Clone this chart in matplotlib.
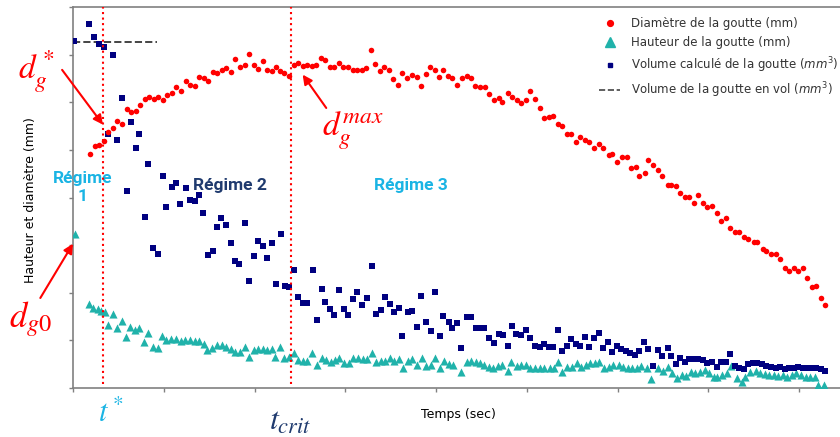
import matplotlib
matplotlib.use('Agg')
import matplotlib.pyplot as plt
from matplotlib.lines import Line2D

# Diamètre de la goutte (mm)
t_diam = [0.19, 0.24, 0.29, 0.34, 0.39, 0.44, 0.49, 0.54, 0.59, 0.64,
          0.69, 0.74, 0.79, 0.84, 0.89, 0.94, 0.99, 1.04, 1.09, 1.14,
          1.19, 1.24, 1.29, 1.34, 1.39, 1.44, 1.49, 1.54, 1.59, 1.64,
          1.69, 1.74, 1.79, 1.84, 1.89, 1.94, 1.99, 2.04, 2.09, 2.14,
          2.19, 2.24, 2.28, 2.33, 2.38, 2.44, 2.48, 2.53, 2.58, 2.63,
          2.68, 2.73, 2.78, 2.83, 2.88, 2.93, 2.98, 3.03, 3.08, 3.13,
          3.18, 3.23, 3.28, 3.33, 3.38, 3.43, 3.48, 3.53, 3.58, 3.63,
          3.68, 3.73, 3.79, 3.83, 3.89, 3.93, 3.99, 4.03, 4.08, 4.13,
          4.18, 4.23, 4.29, 4.34, 4.39, 4.43, 4.48, 4.54, 4.58, 4.64,
          4.69, 4.73, 4.79, 4.84, 4.89, 4.94, 4.99, 5.04, 5.09, 5.14,
          5.19, 5.24, 5.29, 5.34, 5.39, 5.44, 5.49, 5.54, 5.59, 5.64,
          5.69, 5.74, 5.79, 5.84, 5.90, 5.94, 5.99, 6.05, 6.10, 6.15,
          6.20, 6.24, 6.30, 6.34, 6.39, 6.44, 6.49, 6.55, 6.59, 6.64,
          6.69, 6.74, 6.79, 6.84, 6.89, 6.94, 6.99, 7.04, 7.09, 7.14,
          7.19, 7.24, 7.29, 7.34, 7.39, 7.44, 7.50, 7.54, 7.60, 7.64,
          7.69, 7.74, 7.79, 7.84, 7.89, 7.94, 7.99, 8.04, 8.09, 8.14,
          8.19, 8.24, 8.29]
diam = [4.92, 5.08, 5.11, 5.19, 5.38, 5.46, 5.60, 5.55, 5.85, 5.79,
        5.82, 5.94, 6.07, 6.12, 6.07, 6.12, 6.04, 6.15, 6.20, 6.31,
        6.23, 6.45, 6.37, 6.34, 6.53, 6.51, 6.45, 6.64, 6.61, 6.67,
        6.72, 6.64, 6.91, 6.75, 6.78, 7.01, 6.78, 6.70, 6.86, 6.67,
        6.65, 6.75, 6.66, 6.61, 6.56, 6.79, 6.83, 6.77, 6.79, 6.77,
        6.79, 6.93, 6.89, 6.74, 6.74, 6.83, 6.74, 6.74, 6.67, 6.67,
        6.67, 6.72, 7.09, 6.80, 6.65, 6.75, 6.68, 6.49, 6.37, 6.61,
        6.51, 6.58, 6.53, 6.34, 6.59, 6.74, 6.67, 6.54, 6.67, 6.56,
        6.51, 6.37, 6.51, 6.55, 6.51, 6.34, 6.32, 6.32, 6.18, 6.04,
        6.09, 6.01, 6.20, 6.11, 6.05, 5.98, 6.04, 6.23, 6.07, 5.88,
        5.66, 5.69, 5.71, 5.54, 5.50, 5.33, 5.33, 5.17, 5.27, 5.20,
        5.17, 5.03, 5.12, 5.03, 4.89, 4.92, 4.75, 4.84, 4.85, 4.62,
        4.65, 4.46, 4.52, 4.79, 4.68, 4.57, 4.45, 4.27, 4.27, 4.24,
        4.09, 4.02, 4.02, 3.88, 4.05, 3.89, 3.80, 3.83, 3.67, 3.51,
        3.58, 3.36, 3.28, 3.28, 3.17, 3.13, 3.06, 3.06, 2.92, 2.87,
        2.82, 2.82, 2.71, 2.53, 2.45, 2.53, 2.45, 2.53, 2.31, 2.12,
        2.14, 1.90, 1.74]

# Hauteur de la goutte (mm)
t_haut = [0.02, 0.18, 0.22, 0.27, 0.31, 0.35, 0.39, 0.44, 0.48, 0.54,
          0.58, 0.63, 0.68, 0.73, 0.78, 0.83, 0.88, 0.94, 0.98, 1.03,
          1.08, 1.13, 1.19, 1.23, 1.29, 1.34, 1.39, 1.44, 1.48, 1.53,
          1.59, 1.64, 1.69, 1.74, 1.79, 1.84, 1.89, 1.94, 1.99, 2.04,
          2.09, 2.14, 2.19, 2.23, 2.28, 2.33, 2.38, 2.43, 2.48, 2.53,
          2.58, 2.63, 2.69, 2.74, 2.79, 2.84, 2.89, 2.93, 2.99, 3.04,
          3.09, 3.14, 3.19, 3.24, 3.29, 3.34, 3.39, 3.44, 3.49, 3.54,
          3.59, 3.64, 3.69, 3.74, 3.79, 3.84, 3.89, 3.94, 3.99, 4.04,
          4.09, 4.14, 4.19, 4.28, 4.34, 4.39, 4.44, 4.48, 4.53, 4.58,
          4.63, 4.68, 4.73, 4.79, 4.83, 4.89, 4.94, 4.99, 5.04, 5.09,
          5.15, 5.19, 5.25, 5.30, 5.34, 5.39, 5.44, 5.50, 5.55, 5.60,
          5.65, 5.70, 5.75, 5.80, 5.85, 5.90, 5.95, 6.01, 6.06, 6.11,
          6.16, 6.21, 6.26, 6.32, 6.37, 6.45, 6.50, 6.55, 6.60, 6.65,
          6.71, 6.75, 6.81, 6.85, 6.91, 6.96, 7.01, 7.06, 7.10, 7.15,
          7.21, 7.25, 7.31, 7.37, 7.40, 7.46, 7.52, 7.57, 7.62, 7.67,
          7.72, 7.77, 7.82, 7.87, 7.92, 7.97, 8.02, 8.07, 8.12, 8.18,
          8.21, 8.27]
haut = [3.24, 1.76, 1.67, 1.65, 1.62, 1.59, 1.32, 1.55, 1.27, 1.41,
        1.08, 1.28, 1.22, 1.25, 0.97, 1.15, 0.86, 0.83, 1.10, 1.00,
        1.03, 1.03, 0.99, 1.00, 1.00, 0.99, 0.99, 0.93, 0.80, 0.83,
        0.90, 0.90, 0.86, 0.82, 0.76, 0.76, 0.87, 0.66, 0.80, 0.81,
        0.82, 0.80, 0.82, 0.66, 0.87, 0.64, 0.66, 0.73, 0.59, 0.57,
        0.57, 0.73, 0.48, 0.64, 0.59, 0.55, 0.59, 0.64, 0.53, 0.53,
        0.62, 0.64, 0.60, 0.60, 0.73, 0.54, 0.57, 0.57, 0.62, 0.57,
        0.60, 0.41, 0.57, 0.60, 0.48, 0.64, 0.46, 0.48, 0.64, 0.41,
        0.57, 0.50, 0.48, 0.34, 0.55, 0.57, 0.55, 0.52, 0.48, 0.45,
        0.41, 0.47, 0.48, 0.36, 0.54, 0.47, 0.48, 0.48, 0.41, 0.41,
        0.41, 0.43, 0.41, 0.41, 0.54, 0.34, 0.45, 0.45, 0.52, 0.45,
        0.48, 0.52, 0.52, 0.55, 0.41, 0.45, 0.48, 0.48, 0.45, 0.41,
        0.41, 0.41, 0.46, 0.41, 0.19, 0.41, 0.36, 0.45, 0.31, 0.22,
        0.27, 0.25, 0.34, 0.31, 0.34, 0.38, 0.31, 0.24, 0.24, 0.27,
        0.31, 0.47, 0.20, 0.13, 0.24, 0.34, 0.36, 0.31, 0.29, 0.27,
        0.27, 0.25, 0.27, 0.24, 0.27, 0.31, 0.27, 0.24, 0.24, 0.24,
        0.06, 0.06]

# Volume calculé de la goutte (mm3)
t_vol = [0.01, 0.18, 0.23, 0.29, 0.34, 0.39, 0.44, 0.49, 0.54, 0.59,
         0.64, 0.69, 0.73, 0.79, 0.83, 0.88, 0.94, 0.99, 1.03, 1.09,
         1.13, 1.18, 1.24, 1.29, 1.34, 1.39, 1.43, 1.49, 1.54, 1.59,
         1.63, 1.69, 1.74, 1.79, 1.83, 1.89, 1.94, 1.99, 2.04, 2.09,
         2.14, 2.19, 2.24, 2.29, 2.34, 2.38, 2.44, 2.48, 2.53, 2.58,
         2.64, 2.69, 2.74, 2.78, 2.83, 2.88, 2.93, 2.99, 3.03, 3.08,
         3.13, 3.18, 3.24, 3.29, 3.34, 3.39, 3.44, 3.49, 3.54, 3.59,
         3.63, 3.69, 3.74, 3.79, 3.83, 3.89, 3.94, 3.99, 4.04, 4.08,
         4.14, 4.18, 4.23, 4.28, 4.34, 4.38, 4.44, 4.48, 4.53, 4.58,
         4.64, 4.69, 4.74, 4.79, 4.84, 4.88, 4.94, 4.99, 5.04, 5.09,
         5.14, 5.19, 5.24, 5.29, 5.34, 5.39, 5.44, 5.49, 5.54, 5.59,
         5.64, 5.69, 5.74, 5.79, 5.84, 5.89, 5.94, 5.99, 6.04, 6.09,
         6.14, 6.19, 6.24, 6.29, 6.34, 6.39, 6.44, 6.49, 6.55, 6.59,
         6.64, 6.69, 6.74, 6.79, 6.84, 6.89, 6.94, 6.99, 7.04, 7.09,
         7.14, 7.19, 7.24, 7.29, 7.34, 7.39, 7.44, 7.49, 7.54, 7.59,
         7.64, 7.69, 7.74, 7.79, 7.84, 7.89, 7.94, 7.99, 8.04, 8.09,
         8.14, 8.19, 8.24, 8.29]
vol = [7.28, 7.64, 7.38, 7.23, 7.17, 5.33, 7.00, 5.20, 6.09, 4.14,
       5.59, 5.03, 5.34, 3.60, 4.71, 2.95, 2.82, 4.46, 3.81, 4.21,
       4.30, 3.87, 4.20, 3.95, 3.93, 4.05, 3.68, 2.80, 2.88, 3.38,
       3.58, 3.43, 3.04, 2.67, 2.61, 3.46, 2.24, 2.78, 3.08, 2.98,
       2.74, 3.05, 2.18, 3.23, 2.14, 2.13, 2.48, 1.92, 1.78, 1.78,
       2.48, 1.43, 2.08, 1.81, 1.66, 1.53, 2.05, 1.66, 1.53, 1.87,
       2.02, 1.75, 1.89, 2.57, 1.55, 1.63, 1.91, 1.76, 1.59, 1.68,
       1.10, 1.60, 1.62, 1.29, 1.93, 1.39, 1.20, 2.01, 1.10, 1.52,
       1.38, 1.27, 1.36, 0.83, 1.50, 1.50, 1.25, 1.25, 1.25, 1.04,
       0.94, 1.13, 1.11, 0.89, 1.31, 1.13, 1.11, 1.21, 1.06, 0.88,
       0.87, 0.92, 0.86, 0.86, 1.22, 0.77, 0.88, 1.03, 0.93, 0.88,
       1.08, 0.87, 1.05, 1.15, 0.85, 0.96, 0.76, 0.88, 0.82, 0.77,
       0.74, 0.69, 0.78, 0.97, 0.82, 0.46, 0.80, 0.68, 0.83, 0.68,
       0.50, 0.62, 0.54, 0.60, 0.60, 0.60, 0.59, 0.53, 0.55, 0.45,
       0.55, 0.55, 0.71, 0.47, 0.43, 0.39, 0.50, 0.53, 0.52, 0.50,
       0.46, 0.45, 0.41, 0.45, 0.39, 0.41, 0.41, 0.45, 0.43, 0.43,
       0.41, 0.41, 0.39, 0.36]

# Volume de la goutte en vol (mm3)
t_vol_vol = [0.0, 0.93]
vol_vol = [7.27, 7.27]

# instants caracteristiques
t_star = 0.33
t_crit = 2.40

RED = '#ff0000'
TEAL = '#20b2aa'
NAVY = '#000080'
CYAN = '#1ab4e4'
DARKBLUE = '#1f3a6e'

fig = plt.figure(figsize=(8.4, 4.37), dpi=100)
ax = fig.add_axes([73/840, 49/437, 767/840, 381/437])

ax.scatter(t_haut, haut, s=34, marker='^', color=TEAL, linewidths=0, zorder=3)
ax.scatter(t_vol, vol, s=13, marker='s', color=NAVY, linewidths=0, zorder=4)
ax.scatter(t_diam, diam, s=16, marker='o', color=RED, linewidths=0, zorder=5)
ax.plot(t_vol_vol, vol_vol, ls='--', color='#444444', lw=1.4, zorder=2)

ax.axvline(t_star, ymin=0.01, ymax=1, color=RED, ls=':', lw=1.5, zorder=6)
ax.axvline(t_crit, ymin=0.01, ymax=1, color=RED, ls=':', lw=1.5, zorder=6)

ax.set_xlim(0, 8.45)
ax.set_ylim(0, 8)
ax.set_xticks(range(0, 9))
ax.set_yticks(range(0, 9))
ax.set_xticklabels([])
ax.set_yticklabels([])
ax.tick_params(direction='out', length=3, width=1, colors='#808080')
for side in ['left', 'bottom', 'top']:
    ax.spines[side].set_color('#808080')
    ax.spines[side].set_linewidth(1.2)
ax.spines['right'].set_visible(False)

ax.set_xlabel('Temps (sec)', fontsize=9)
ax.set_ylabel('Hauteur et diamètre (mm)', fontsize=9)
ax.xaxis.set_label_coords(0.503, -0.052)
ax.yaxis.set_label_coords(-0.047, 0.493)

handles = [
    Line2D([], [], ls='none', marker='o', color=RED, markersize=4.2),
    Line2D([], [], ls='none', marker='^', color=TEAL, markersize=7),
    Line2D([], [], ls='none', marker='s', color=NAVY, markersize=3.5),
    Line2D([], [], ls='--', color='#444444', lw=1.2),
]
labels = ['Diamètre de la goutte (mm)', 'Hauteur de la goutte (mm)',
          'Volume calculé de la goutte ($mm^3$)',
          'Volume de la goutte en vol ($mm^3$)']
leg = ax.legend(handles, labels, loc='upper right', bbox_to_anchor=(1.009, 0.995),
                frameon=False, fontsize=8.5, handlelength=1.8, labelspacing=0.5,
                handletextpad=0.9, borderaxespad=0.3)
for txt in leg.get_texts():
    txt.set_color('#333333')

# regimes
ax.text(0.11, 4.22, 'Régime\n1', color=CYAN, fontsize=12.5, fontweight='bold',
        family='Roboto', ha='center', va='center', linespacing=1.25)
ax.text(1.73, 4.26, 'Régime 2', color=DARKBLUE, fontsize=12.5, fontweight='bold',
        family='Roboto', ha='center', va='center')
ax.text(3.72, 4.26, 'Régime 3', color=CYAN, fontsize=12.5, fontweight='bold',
        family='Roboto', ha='center', va='center')

# annotations (texte + fleches)
arrow = dict(arrowstyle='-|>', color=RED, lw=1.5, mutation_scale=14,
             shrinkA=0, shrinkB=0)
ax.text(-0.41, 6.64, r'$d_g^*$', color=RED, fontsize=24, ha='center',
        va='center', math_fontfamily='stix')
ax.annotate('', xy=(0.33, 5.53), xytext=(-0.12, 6.68),
            annotation_clip=False, arrowprops=arrow)
ax.text(3.08, 5.40, r'$d_g^{max}$', color=RED, fontsize=24, ha='center',
        va='center', math_fontfamily='stix')
ax.annotate('', xy=(2.53, 6.58), xytext=(2.79, 5.88),
            annotation_clip=False, arrowprops=arrow)
ax.text(-0.47, 1.45, r'$d_{g0}$', color=RED, fontsize=25, ha='center',
        va='center', math_fontfamily='stix')
ax.annotate('', xy=(0.0, 3.03), xytext=(-0.36, 1.89),
            annotation_clip=False, arrowprops=arrow)
ax.text(0.42, -0.53, r'$t^*$', color=CYAN, fontsize=22, ha='center',
        va='center', math_fontfamily='stix')
ax.text(2.39, -0.69, r'$t_{crit}$', color=DARKBLUE, fontsize=23, ha='center',
        va='center', math_fontfamily='stix')

fig.savefig('out.png', dpi=100)
